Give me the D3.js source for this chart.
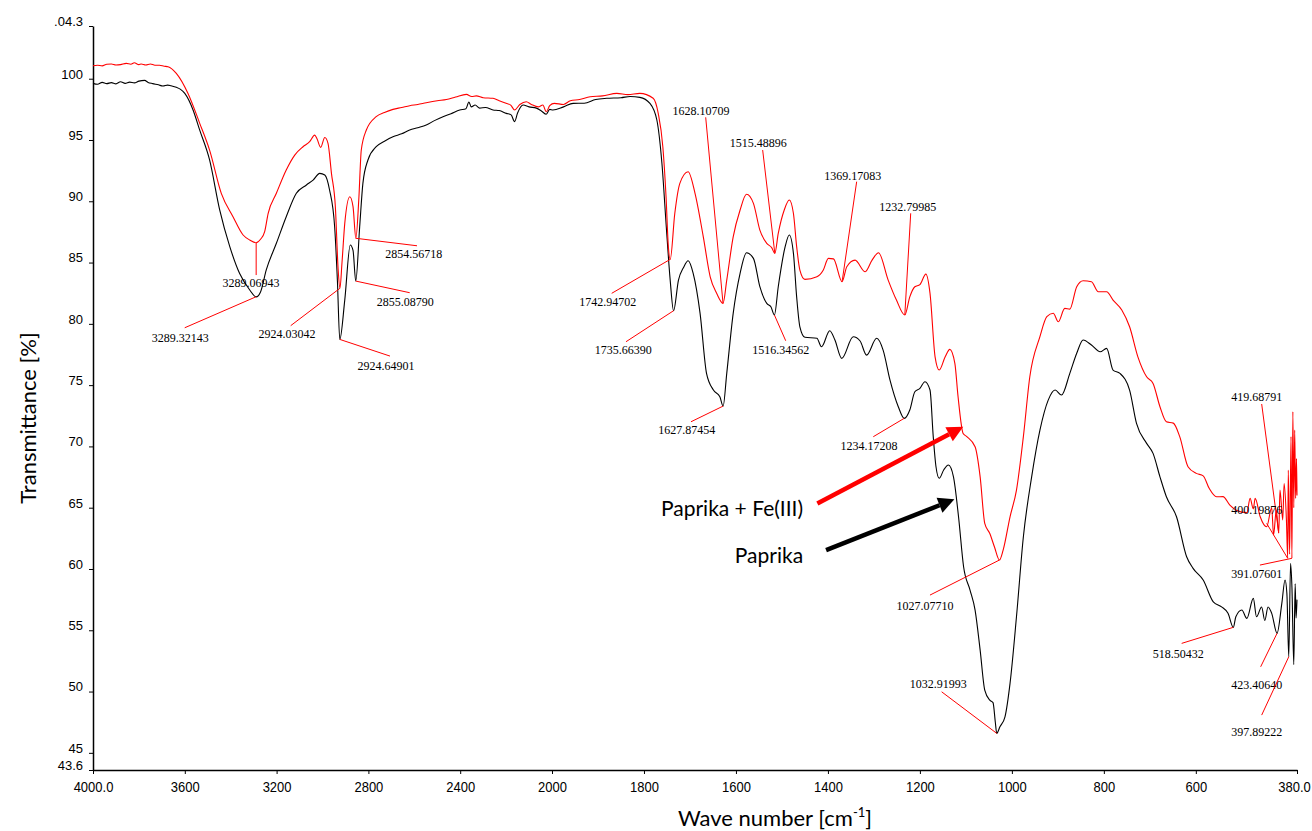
<!DOCTYPE html>
<html>
<head>
<meta charset="utf-8">
<script src="https://cdn.jsdelivr.net/npm/d3@7"></script>
<style>
  html, body { margin: 0; padding: 0; background: #fff; }
  svg { display: block; }
</style>
</head>
<body>
<svg id="chart" width="1312" height="831"></svg>
<script>
// FTIR spectra: wavenumber (cm-1) vs transmittance (%)
const waveTicks = [4000, 3600, 3200, 2800, 2400, 2000, 1800, 1600, 1400, 1200, 1000, 800, 600, 380];
const waveTickLabels = ["4000.0", "3600", "3200", "2800", "2400", "2000", "1800", "1600", "1400", "1200", "1000", "800", "600", "380.0"];
const transTicks = [104.3, 100, 95, 90, 85, 80, 75, 70, 65, 60, 55, 50, 45, 43.6];
const transTickLabels = [".04.3", "100", "95", "90", "85", "80", "75", "70", "65", "60", "55", "50", "45", "43.6"];

const seriesNames = ["Paprika", "Paprika + Fe(III)"];

// Paprika
const paprika = [
  [4000, 99.62], [3980, 99.55], [3960, 99.7], [3940, 99.6], [3920, 99.68], [3900, 99.58], [3880, 99.75],
  [3860, 99.62], [3840, 99.72], [3820, 99.66], [3800, 99.8], [3775, 99.86], [3760, 99.7], [3740, 99.6],
  [3715, 99.5], [3695, 99.4], [3675, 99.48], [3660, 99.42], [3637, 99.3], [3620, 99.15], [3600, 98.8],
  [3564, 97.45], [3535, 95.8], [3492, 93.37], [3448, 89.3], [3404, 86.3], [3361, 84.1], [3317, 82.76],
  [3289.32, 82.2], [3270, 82.6], [3245, 84.4], [3201, 86.57], [3158, 88.74], [3114, 90.65], [3070, 91.33],
  [3041, 91.73], [3012, 92.28], [2990, 92.14], [2969, 90.9], [2947, 87.9], [2935, 83.5], [2924.65, 78.73],
  [2903, 81.94], [2879, 86.43], [2867, 86.0], [2855.09, 83.49], [2838, 87.92], [2824, 91.46], [2802, 93.37],
  [2766, 94.45], [2730, 94.9], [2693, 95.27], [2655, 95.5], [2620, 95.81], [2585, 96.0], [2548, 96.22],
  [2510, 96.6], [2475, 96.9], [2440, 97.15], [2402, 97.45], [2375, 97.55], [2362, 98.1], [2352, 97.7],
  [2335, 97.85], [2315, 97.6], [2290, 97.65], [2257, 97.45], [2230, 97.4], [2199, 97.17], [2178, 97.05],
  [2163, 96.5], [2150, 97.2], [2126, 97.85], [2100, 97.7], [2068, 97.6], [2045, 97.35], [2025, 97.1],
  [2010, 97.5], [1998, 97.45], [1975, 97.7], [1954, 97.99], [1930, 98.0], [1905, 98.3], [1881, 98.4],
  [1850, 98.45], [1830, 98.55], [1809, 98.48], [1787, 97.99], [1772, 96.63], [1761, 93.1], [1751, 87.65],
  [1743, 83.57], [1735.66, 81.07], [1725, 83.57], [1714, 84.6], [1704, 85.15], [1693, 84.12], [1678, 80.86],
  [1664, 75.96], [1649, 74.6], [1635, 74.05], [1627.87, 73.29], [1620, 75.96], [1606, 80.86], [1591, 84.12],
  [1577, 85.8], [1562, 85.34], [1548, 83.03], [1533, 81.67], [1524, 81.4], [1516.35, 80.72], [1508, 83.03],
  [1493, 86.3], [1484, 87.25], [1475, 85.75], [1468, 82.2], [1461, 79.76], [1450, 78.9], [1424, 78.82],
  [1414, 78.13], [1396, 79.44], [1385, 78.7], [1370, 77.18], [1345, 78.95], [1330, 78.6], [1316, 77.45],
  [1294, 78.82], [1280, 77.86], [1265, 75.41], [1247, 73.24], [1234.17, 72.29], [1222, 72.97], [1211, 74.46],
  [1200, 74.74], [1189, 75.28], [1178, 74.6], [1171, 70.8], [1165, 68.34], [1158, 67.4], [1148, 68.1],
  [1138, 68.48], [1127, 67.52], [1116, 64.26], [1105, 60.18], [1091, 58.28], [1080, 56.65], [1069, 53.38],
  [1059, 50.12], [1048, 49.3], [1041, 49.1], [1036, 47.5], [1032.92, 46.59], [1026, 47.12], [1015, 47.94],
  [1004, 50.67], [990, 56.1], [975, 62.63], [957, 67.52], [939, 71.33], [921, 73.78], [906, 74.6],
  [892, 74.19], [874, 75.96], [859, 77.6], [845, 78.68], [827, 78.27], [808, 77.72], [794, 78.0],
  [780, 76.23], [765, 75.96], [744, 74.6], [729, 71.88], [707, 70.25], [693, 69.43], [678, 67.52],
  [664, 65.89], [642, 64.26], [620, 61.0], [606, 60.05], [584, 59.1], [562, 57.32], [544, 56.91],
  [530, 56.38], [518.5, 55.24], [513, 56.1], [500, 56.65], [489, 55.97], [475, 57.6], [468, 56.1],
  [457, 56.9], [450, 55.8], [443, 56.9], [435, 56.38], [423.41, 54.75], [413, 57.2], [406, 59.1],
  [402, 58.0], [397.89, 52.84], [394, 60.46], [391, 58.5], [387, 52.2], [384, 58.8], [382, 56.0], [380, 57.5]
];

// Paprika + Fe(III)
const paprikaFe = [
  [4000, 101.06], [3980, 101.1], [3960, 101.05], [3940, 101.18], [3920, 101.2], [3900, 101.12], [3880, 101.15],
  [3855, 101.25], [3835, 101.18], [3820, 101.3], [3800, 101.15], [3790, 101.2], [3770, 101.12], [3750, 101.2],
  [3730, 101.1], [3710, 101.1], [3690, 101.02], [3673, 100.98], [3637, 100.44], [3586, 98.8], [3535, 96.36],
  [3492, 94.18], [3441, 90.65], [3390, 88.74], [3346, 87.25], [3317, 86.84], [3289.07, 86.62], [3270, 86.9],
  [3252, 87.52], [3237, 89.0], [3201, 90.65], [3158, 92.55], [3121, 93.77], [3085, 94.45], [3056, 94.86],
  [3034, 95.4], [3024, 95.1], [3008, 94.4], [2990, 95.2], [2976, 94.73], [2961, 92.28], [2944, 89.56],
  [2932, 84.5], [2924.03, 82.9], [2915, 85.0], [2903, 88.2], [2881, 90.37], [2867, 89.56], [2854.57, 86.98],
  [2842, 90.1], [2831, 94.18], [2809, 95.81], [2766, 96.9], [2730, 97.25], [2693, 97.5], [2655, 97.65],
  [2620, 97.8], [2585, 97.9], [2548, 98.04], [2500, 98.2], [2460, 98.3], [2420, 98.5], [2373, 98.72],
  [2350, 98.55], [2330, 98.6], [2300, 98.45], [2257, 98.4], [2230, 98.2], [2200, 98.0], [2180, 97.85],
  [2163, 97.45], [2140, 97.9], [2112, 98.12], [2090, 97.9], [2060, 97.7], [2040, 97.85], [2025, 97.3],
  [2010, 97.8], [1995, 97.99], [1975, 97.9], [1960, 98.2], [1940, 98.3], [1917, 98.53], [1890, 98.6],
  [1859, 98.8], [1835, 98.7], [1809, 98.8], [1780, 98.4], [1769, 97.17], [1759, 94.45], [1752, 90.37],
  [1747, 86.3], [1742.95, 85.26], [1733, 89.0], [1722, 91.46], [1704, 92.41], [1689, 90.65], [1671, 87.1],
  [1656, 83.84], [1642, 82.49], [1628.11, 81.67], [1620, 83.57], [1606, 87.1], [1591, 89.29], [1577, 90.57],
  [1562, 89.83], [1548, 87.65], [1533, 86.57], [1522, 86.2], [1515.49, 85.75], [1508, 87.38], [1495, 89.29],
  [1484, 90.1], [1475, 89.0], [1468, 86.3], [1461, 84.39], [1450, 83.63], [1424, 83.84], [1410, 84.39],
  [1399, 85.34], [1388, 85.3], [1369.17, 83.44], [1359, 84.66], [1341, 85.2], [1319, 84.25], [1304, 85.2],
  [1290, 85.8], [1269, 83.57], [1251, 81.94], [1232.8, 80.72], [1222, 82.2], [1211, 83.03], [1200, 83.2],
  [1187, 84.06], [1178, 82.49], [1167, 77.31], [1158, 76.23], [1145, 77.31], [1135, 77.92], [1124, 76.78],
  [1117, 74.05], [1106, 71.06], [1098, 70.8], [1080, 69.97], [1069, 67.52], [1059, 63.72], [1048, 62.9],
  [1038, 61.81], [1027.08, 60.73], [1019, 61.54], [1004, 64.26], [990, 66.44], [975, 70.8], [961, 75.68],
  [939, 78.95], [924, 80.58], [910, 80.86], [899, 80.17], [885, 81.26], [874, 81.2], [859, 83.03],
  [845, 83.52], [827, 83.44], [812, 82.62], [794, 82.62], [780, 81.94], [761, 81.13], [744, 79.76],
  [726, 77.31], [707, 75.68], [693, 75.14], [678, 73.24], [664, 72.01], [649, 71.9], [635, 70.8],
  [617, 68.34], [599, 67.8], [584, 67.6], [571, 66.58], [555, 65.89], [541, 65.9], [526, 65.21],
  [512, 64.8], [489, 64.6], [482, 65.76], [475, 64.9], [471, 65.76], [460, 64.26], [446, 63.44],
  [435, 65.0], [431, 62.77], [425, 64.8], [419.69, 62.93], [417, 66.44], [411, 64.0], [408, 66.98],
  [403, 64.0], [400.2, 60.87], [399, 68.07], [396, 61.2], [393, 70.8], [391.08, 60.87], [389, 72.83],
  [387, 65.0], [385, 71.33], [383, 65.76], [381, 69.0], [380, 66.0]
];

// Peak callouts: label (= peak wavenumber), transmittance at peak,
// leader end [wn, T], label centre [wn, T]
const peakCallouts = [
  ["3289.06943", 86.62, [3289.07, 83.98], [3311.6, 83.35]],
  ["3289.32143", 82.21, [3600.4, 79.68], [3619.6, 78.9]],
  ["2924.03042", 82.9, [3138.6, 79.85], [3154.7, 79.17]],
  ["2924.64901", 78.73, [2705.9, 77.37], [2723.3, 76.56]],
  ["2854.56718", 86.98, [2588.2, 86.37], [2602.6, 85.7]],
  ["2855.08790", 83.49, [2620.0, 82.54], [2639.2, 81.8]],
  ["1742.94702", 85.26, [1870.2, 82.49], [1878.9, 81.8]],
  ["1735.66390", 81.07, [1839.1, 78.54], [1845.0, 77.92]],
  ["1628.10709", 81.67, [1665.8, 96.85], [1676.0, 97.39]],
  ["1627.87454", 73.29, [1697.8, 72.01], [1707.1, 71.33]],
  ["1515.48896", 85.75, [1541.9, 94.18], [1551.4, 94.73]],
  ["1516.34562", 80.72, [1491.8, 78.62], [1502.7, 77.92]],
  ["1369.17083", 83.44, [1337.5, 91.6], [1346.2, 92.08]],
  ["1232.79985", 80.72, [1220.0, 89.02], [1226.6, 89.56]],
  ["1234.17208", 72.29, [1301.4, 70.79], [1310.7, 70.05]],
  ["1027.07710", 60.73, [1178.1, 57.87], [1189.0, 57.0]],
  ["1032.91993", 46.59, [1152.7, 49.98], [1160.0, 50.61]],
  ["518.50432", 55.24, [630.8, 53.93], [638.2, 53.11]],
  ["423.40640", 54.75, [459.0, 52.02], [467.7, 50.58]],
  ["397.89222", 52.84, [456.8, 48.08], [467.7, 46.72]],
  ["419.68791", 62.93, [456.8, 73.46], [467.7, 74.05]],
  ["400.19876", 60.87, [446.0, 63.72], [467.7, 64.81]],
  ["391.07601", 60.87, [460.6, 60.32], [467.7, 59.64]]
];

// Legend arrows: text anchor (right end) [wn, T], arrow tail [wn, T], arrow tip [wn, T]
const legendText = [[1454, 64.97], [1454, 61.13]];
const arrowTail = [[1423, 65.35], [1404, 61.54]];
const arrowTip = [[1105.7, 71.6], [1125, 65.68]];

const colors = ["#000000", "#ff0000"];

const svg = d3.select("#chart");
svg.append("rect").attr("width", 1312).attr("height", 831).attr("fill", "#fff");

// Wavenumber axis is compressed above 2000 cm-1 (half scale)
const x = d3.scaleLinear().domain([4000, 2000, 380]).range([93, 552, 1297]);
const y = d3.scaleLinear().domain([43.6, 104.3]).range([770, 26]);

// X axis
const xAxis = svg.append("g")
  .attr("transform", `translate(0,${y(43.6)})`)
  .call(d3.axisBottom(x)
    .tickValues(waveTicks)
    .tickFormat((d, i) => waveTickLabels[i])
    .tickSize(4).tickSizeOuter(0).tickPadding(7));
xAxis.select(".domain").attr("stroke", "#000").attr("stroke-width", 1.5);
xAxis.selectAll(".tick line").attr("stroke", "#000");
xAxis.selectAll("text")
  .attr("font-family", "'Liberation Sans', Arial, sans-serif")
  .attr("font-size", 13).attr("fill", "#000")
  .attr("y", 10).attr("transform", "scale(1,1.15)")
  .attr("dx", (d, i) => i === waveTicks.length - 1 ? -3 : 0);

// Y axis
const yAxis = svg.append("g")
  .attr("transform", `translate(${x(4000)},0)`)
  .call(d3.axisLeft(y)
    .tickValues(transTicks)
    .tickFormat((d, i) => transTickLabels[i])
    .tickSize(4).tickSizeOuter(0).tickPadding(6));
yAxis.select(".domain").attr("stroke", "#000").attr("stroke-width", 1.5);
yAxis.selectAll(".tick line").attr("stroke", "#000");
yAxis.selectAll("text")
  .attr("font-family", "'Liberation Sans', Arial, sans-serif")
  .attr("font-size", 13).attr("fill", "#000")
  .attr("dy", "-0.05em");

// Axis titles
svg.append("text")
  .attr("transform", `translate(28,${(y(43.6) + y(104.3)) / 2 + 20}) rotate(-90)`)
  .attr("text-anchor", "middle")
  .attr("dy", "0.35em")
  .attr("font-family", "Lato, 'Open Sans', sans-serif")
  .attr("font-size", 22)
  .attr("fill", "#000")
  .text("Transmittance [%]");

const xt = svg.append("text")
  .attr("x", 775).attr("y", 826)
  .attr("text-anchor", "middle")
  .attr("font-family", "Lato, 'Open Sans', sans-serif")
  .attr("font-size", 22)
  .attr("fill", "#000");
xt.append("tspan").text("Wave number [cm");
xt.append("tspan").attr("font-size", 13).attr("dy", -9).text("-1");
xt.append("tspan").attr("dy", 9).text("]");

// Spectra
const line = d3.line()
  .x(d => x(d[0]))
  .y(d => y(d[1]))
  .curve(d3.curveMonotoneX);

[paprika, paprikaFe].forEach((s, i) => {
  svg.append("path")
    .datum(s)
    .attr("fill", "none")
    .attr("stroke", colors[i])
    .attr("stroke-width", 1.1)
    .attr("stroke-linejoin", "round")
    .attr("d", line);
});

// Peak callouts
const callG = svg.append("g");
peakCallouts.forEach(([label, t, end, at]) => {
  const wn = parseFloat(label);
  callG.append("line")
    .attr("x1", x(wn)).attr("y1", y(t))
    .attr("x2", x(end[0])).attr("y2", y(end[1]))
    .attr("stroke", "#ff0000").attr("stroke-width", 1);
  callG.append("text")
    .attr("x", x(at[0])).attr("y", y(at[1]))
    .attr("dy", "0.35em")
    .attr("text-anchor", "middle")
    .attr("font-family", "'Liberation Serif', 'Times New Roman', serif")
    .attr("font-size", 12)
    .attr("fill", "#000")
    .text(label);
});

// Legend labels with arrows
const arrowColors = ["#ff0000", "#000000"];
const legendLabels = [seriesNames[1], seriesNames[0]];
legendLabels.forEach((name, i) => {
  svg.append("text")
    .attr("x", x(legendText[i][0])).attr("y", y(legendText[i][1]))
    .attr("dy", "0.36em")
    .attr("text-anchor", "end")
    .attr("font-family", "Lato, 'Open Sans', sans-serif")
    .attr("font-size", 21)
    .attr("fill", "#000")
    .text(name);

  const x0 = x(arrowTail[i][0]), y0 = y(arrowTail[i][1]);
  const x1 = x(arrowTip[i][0]), y1 = y(arrowTip[i][1]);
  const ang = Math.atan2(y1 - y0, x1 - x0);
  const headLen = 16, headHalf = 8;
  const bx = x1 - headLen * Math.cos(ang), by = y1 - headLen * Math.sin(ang);
  svg.append("line")
    .attr("x1", x0).attr("y1", y0).attr("x2", bx).attr("y2", by)
    .attr("stroke", arrowColors[i]).attr("stroke-width", 4.5);
  const px = -Math.sin(ang), py = Math.cos(ang);
  svg.append("path")
    .attr("d", `M${x1},${y1}L${bx + px * headHalf},${by + py * headHalf}L${bx - px * headHalf},${by - py * headHalf}Z`)
    .attr("fill", arrowColors[i]);
});
</script>
</body>
</html>
